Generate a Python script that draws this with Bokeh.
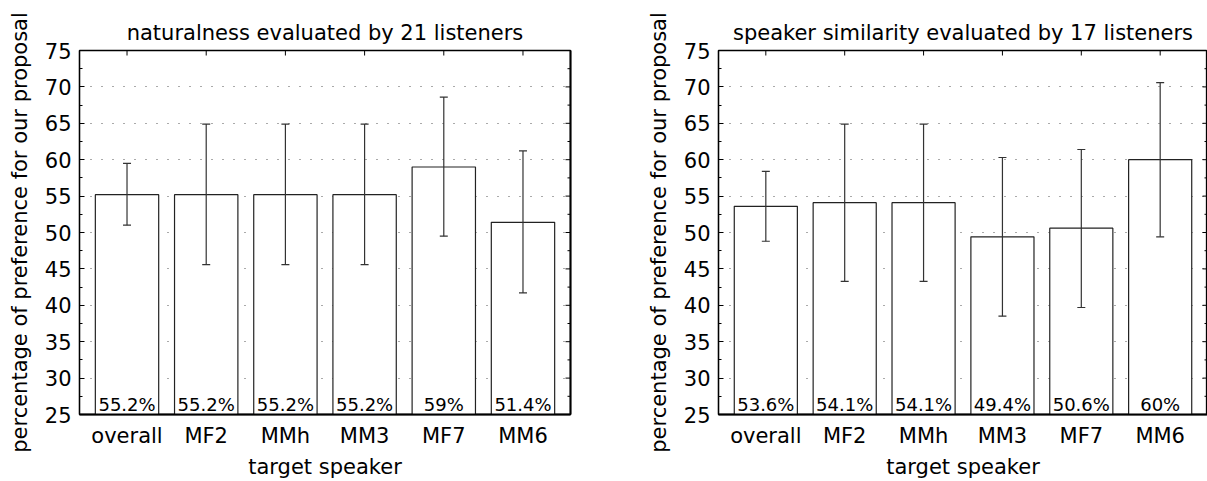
import math
from bokeh.plotting import figure
from bokeh.models import (Range1d, FixedTicker, LinearAxis, ColumnDataSource,
                          Whisker, TeeHead)
from bokeh.layouts import row
from bokeh.embed import file_html
from bokeh.resources import INLINE
from bokeh.core.properties import value

speakers = ["overall", "MF2", "MMh", "MM3", "MF7", "MM6"]
positions = [1, 2, 3, 4, 5, 6]
x_limits = (0.4, 6.6)
y_limits = (25, 75)

nat_values = [55.2, 55.2, 55.2, 55.2, 59.0, 51.4]
nat_lower = [51.0, 45.6, 45.6, 45.6, 49.5, 41.7]
nat_upper = [59.5, 64.9, 64.9, 64.9, 68.6, 61.2]

sim_values = [53.6, 54.1, 54.1, 49.4, 50.6, 60.0]
sim_lower = [48.8, 43.3, 43.3, 38.5, 39.7, 49.4]
sim_upper = [58.4, 64.9, 64.9, 60.3, 61.4, 70.6]

y_ticks = [25, 30, 35, 40, 45, 50, 55, 60, 65, 70, 75]
y_minor = [27.5, 32.5, 37.5, 42.5, 47.5, 52.5, 57.5, 62.5, 67.5, 72.5]
grid_ticks = [30, 35, 40, 45, 50, 55, 60, 65, 70]

titles = ["naturalness evaluated by 21 listeners",
          "speaker similarity evaluated by 17 listeners"]
y_label = "percentage of preference for our proposal"
x_label = "target speaker"

FONT = "DejaVu Sans"


def make_panel(title, vals, lower, upper, width, b_left, b_right):
    p = figure(width=width, height=481, output_backend="svg", toolbar_location=None,
               x_range=Range1d(*x_limits), y_range=Range1d(*y_limits),
               min_border_left=b_left, min_border_right=b_right,
               min_border_top=50, min_border_bottom=64,
               background_fill_color="white", border_fill_color="white")
    p.outline_line_color = "black"
    p.outline_line_width = 1.3

    p.title.text = title
    p.title.align = "center"
    p.title.text_font = FONT
    p.title.text_font_size = "21px"
    p.title.text_font_style = "normal"
    p.title.text_color = "black"
    p.title.standoff = 12

    # grid
    p.xgrid.visible = False
    p.ygrid.ticker = FixedTicker(ticks=grid_ticks)
    p.ygrid.grid_line_color = "#555555"
    p.ygrid.grid_line_dash = "1 10"
    p.ygrid.grid_line_width = 1

    # left axis
    ya = p.yaxis[0]
    ya.ticker = FixedTicker(ticks=y_ticks, minor_ticks=y_minor)
    ya.major_tick_in = 5
    ya.major_tick_out = 0
    ya.minor_tick_in = 3
    ya.minor_tick_out = 0
    ya.major_tick_line_color = "black"
    ya.minor_tick_line_color = "black"
    ya.axis_line_color = "black"
    ya.axis_line_width = 1.3
    ya.major_label_standoff = 8
    ya.major_label_text_font = FONT
    ya.major_label_text_font_size = "21px"
    ya.major_label_text_color = "black"
    ya.axis_label = y_label
    ya.axis_label_text_font = FONT
    ya.axis_label_text_font_size = "21px"
    ya.axis_label_text_font_style = "normal"
    ya.axis_label_text_color = "black"
    ya.axis_label_standoff = 10

    # bottom axis
    xa = p.xaxis[0]
    xa.ticker = FixedTicker(ticks=positions)
    xa.major_label_overrides = {pos: name for pos, name in zip(positions, speakers)}
    xa.major_tick_in = 0
    xa.major_tick_out = 0
    xa.minor_tick_line_color = None
    xa.axis_line_color = "black"
    xa.axis_line_width = 2
    xa.major_label_standoff = 9
    xa.major_label_text_font = FONT
    xa.major_label_text_font_size = "21px"
    xa.major_label_text_color = "black"
    xa.axis_label = x_label
    xa.axis_label_text_font = FONT
    xa.axis_label_text_font_size = "21px"
    xa.axis_label_text_font_style = "normal"
    xa.axis_label_text_color = "black"
    xa.axis_label_standoff = 4

    # right frame line (thicker), no ticks / labels
    ra = LinearAxis(ticker=FixedTicker(ticks=[]), axis_line_color="black", axis_line_width=2,
                    major_tick_line_color=None, minor_tick_line_color=None,
                    major_label_standoff=0)
    p.add_layout(ra, "right")

    # inward tick marks on the top and right edges
    n = len(positions)
    p.scatter(x=positions, y=[y_limits[1]] * n, marker="dash", size=10,
              angle=math.pi / 2, line_color="black", line_width=1)
    p.scatter(x=[x_limits[1]] * len(y_ticks), y=y_ticks, marker="dash", size=10,
              line_color="black", line_width=1)
    p.scatter(x=[x_limits[1]] * len(y_minor), y=y_minor, marker="dash", size=6,
              line_color="black", line_width=1)

    labels = [f"{v:g}%" for v in vals]
    src = ColumnDataSource(dict(x=positions, top=vals, lower=lower, upper=upper,
                                label=labels, base=[y_limits[0]] * len(vals)))

    p.vbar(x="x", top="top", bottom="base", width=0.8, source=src,
           fill_color="white", line_color="#222222", line_width=1.2)

    w = Whisker(source=src, base="x", upper="upper", lower="lower",
                line_color="#333333", line_width=1.2,
                upper_head=TeeHead(size=8, line_color="#333333", line_width=1.2),
                lower_head=TeeHead(size=8, line_color="#333333", line_width=1.2))
    w.level = "overlay"
    p.add_layout(w)

    p.text(x="x", y="base", text="label", source=src, text_align="center",
           text_baseline="alphabetic", y_offset=-10.5,
           text_font=value(FONT), text_font_size="18px", text_color="black")
    return p


left = make_panel(titles[0], nat_values, nat_lower, nat_upper, 640, 79, 70)
right = make_panel(titles[1], sim_values, sim_lower, sim_upper, 567, 78, 0)

layout = row(left, right)
open("out.html", "w").write(file_html(layout, INLINE))
